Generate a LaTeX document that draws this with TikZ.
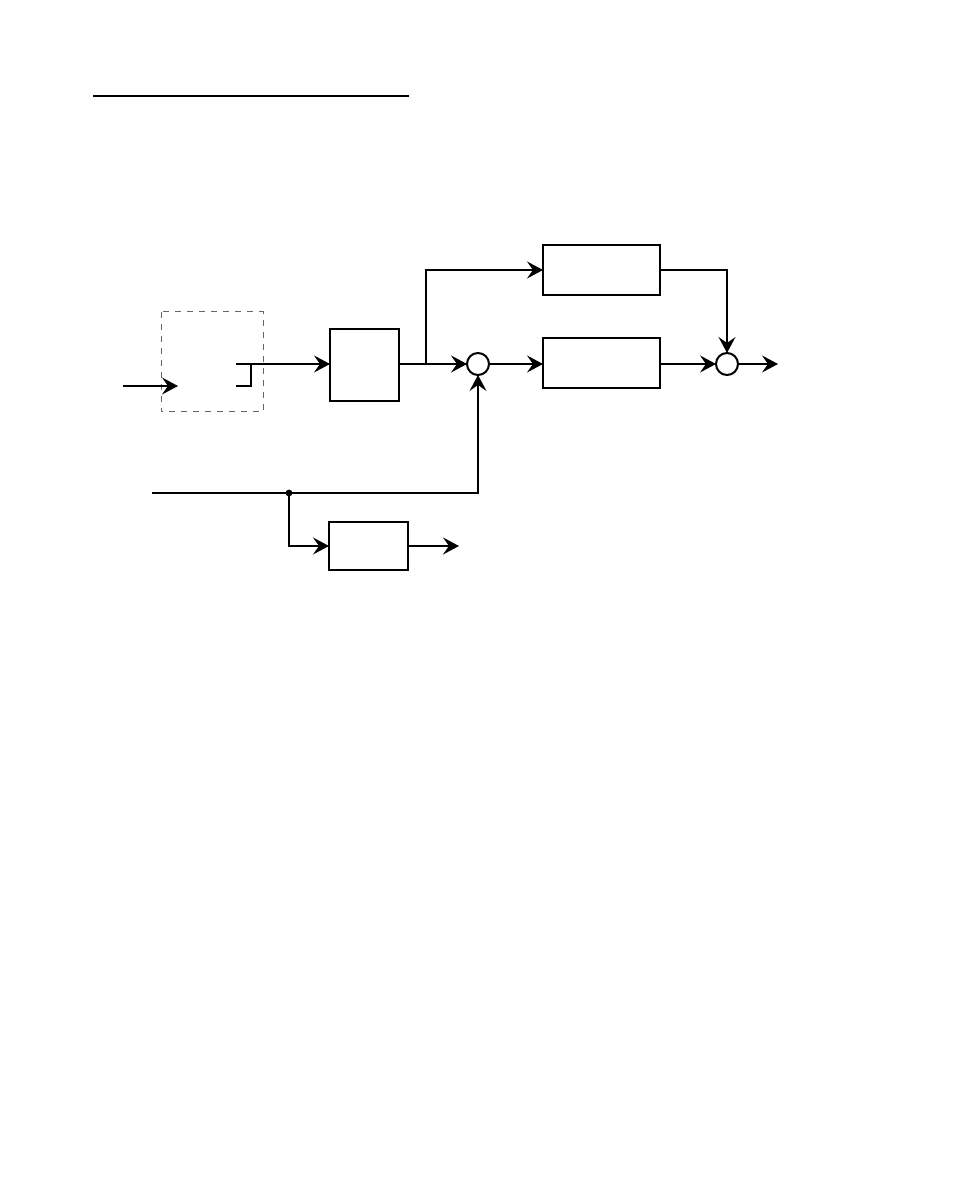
\documentclass[tikz,border=0pt]{standalone}
\usetikzlibrary{arrows.meta}

\tikzset{
  blk/.style={draw, line width=1.2pt, inner sep=0pt, outer sep=0pt},
  sumnode/.style={draw, circle, line width=1pt, minimum size=11pt, inner sep=0pt, outer sep=0pt},
  wire/.style={line width=0.65pt},
}

\begin{document}
\begin{tikzpicture}[>={Stealth[length=8pt,width=8.5pt,inset=3pt]}, x=0.5pt, y=-0.5pt]
  % moldura da página
  \useasboundingbox (0,0) rectangle (954,1202);

  % linha do título
  \draw[line width=0.7pt] (93,96) -- (409,96);

  % bloco tracejado com o degrau
  \draw[dashed, gray!80!black, line width=0.5pt] (161,312) rectangle (263,412);
  \coordinate (in) at (123,386);
  \coordinate (intip) at (178,386);
  \draw[wire, ->] (in) -- (intip);
  \draw[line width=1.2pt] (236,386) -- (251,386) -- (251,364);
  \coordinate (stepout) at (236,364);

  % blocos
  \node[blk, minimum width=34.5pt, minimum height=36pt] (g1) at (364.5,365) {};
  \node[blk, minimum width=58.5pt, minimum height=25pt] (gtop) at (601.5,270) {};
  \node[blk, minimum width=58.5pt, minimum height=25pt] (gbot) at (601.5,363) {};
  \node[blk, minimum width=39.5pt, minimum height=24pt] (g3) at (368.5,546) {};

  % somadores
  \node[sumnode] (s1) at (478,364) {};
  \node[sumnode] (s2) at (727,364) {};

  % ligações
  \draw[wire, ->] (stepout) -- (g1.west |- stepout);
  \coordinate (br) at (426,364);
  \draw[wire, ->] (g1.east |- s1) -- (s1);
  \draw[wire, ->] (br) |- (gtop);
  \draw[wire, ->] (s1) -- (gbot.west |- s1);
  \draw[wire, ->] (gbot.east |- s2) -- (s2);
  \draw[wire, ->] (gtop) -| (s2);
  \coordinate (out) at (778,364);
  \draw[wire, ->] (s2) -- (out);

  % linha de baixo com derivação
  \coordinate (ref) at (152,493);
  \coordinate (dot) at (289,493);
  \draw[wire, ->] (ref) -| (s1);
  \fill (dot) circle (1.7pt);
  \draw[wire, ->] (dot) |- (g3);
  \coordinate (out3) at (459,546);
  \draw[line width=1.1pt, ->] (g3) -- (out3);
\end{tikzpicture}
\end{document}
